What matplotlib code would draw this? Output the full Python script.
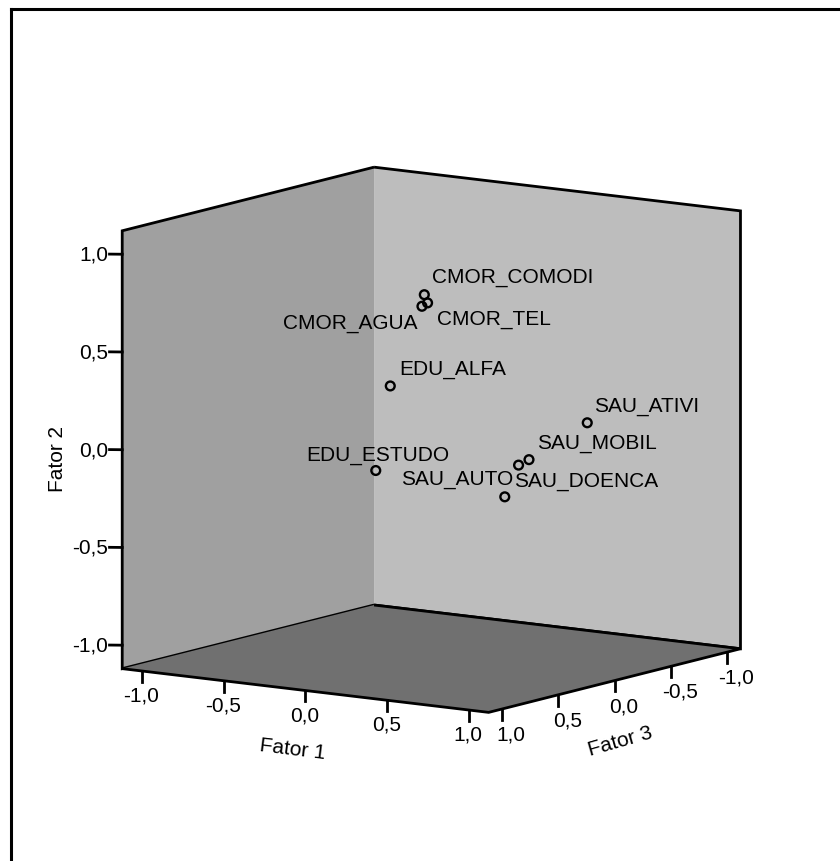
import matplotlib
matplotlib.use('Agg')
import matplotlib.pyplot as plt
from matplotlib.lines import Line2D
from mpl_toolkits.mplot3d import proj3d

# cargas fatoriais
variaveis = ['CMOR_COMODI', 'CMOR_TEL', 'CMOR_AGUA', 'EDU_ALFA', 'EDU_ESTUDO',
             'SAU_ATIVI', 'SAU_MOBIL', 'SAU_DOENCA', 'SAU_AUTO']
fator1 = [0.06, 0.08, 0.08, 0.23, 0.21, 0.85, 0.70, 0.65, 0.60]
fator2 = [0.77, 0.73, 0.72, 0.40, -0.02, 0.15, -0.01, -0.04, -0.20]
fator3 = [0.15, 0.15, 0.20, 0.70, 0.80, -0.15, 0.15, 0.17, 0.22]
ticks = [-1.0, -0.5, 0.0, 0.5, 1.0]

# deslocamento dos rotulos (pixels) e alinhamento
desloc = [(8, 18), (9, -16), (-4, -16), (9, 17), (2, 16),
          (7, 17), (8, 17), (-5, -15), (9, 18)]
alinh = ['left', 'left', 'right', 'left', 'center', 'left', 'left', 'left', 'right']

plt.rcParams['font.family'] = ['Liberation Sans', 'DejaVu Sans']
FS = 15
fig = plt.figure(figsize=(8.4, 8.62), dpi=100)
ax = fig.add_axes([0, -0.0245, 1, 1], projection='3d')
ax.set_proj_type('ortho')
ax.view_init(elev=10, azim=-55.5)
ax.set_box_aspect((1, 1, 1), zoom=0.89)

lim = 1.12
ax.set_xlim(-lim, lim)
ax.set_ylim(lim, -lim)
ax.set_zlim(-lim, lim)

ax.grid(False)
ax.xaxis.set_pane_color('#a0a0a0')
ax.yaxis.set_pane_color('#bdbdbd')
ax.zaxis.set_pane_color('#707070')
for eixo in (ax.xaxis, ax.yaxis, ax.zaxis):
    eixo.pane.set_edgecolor('black')
    eixo.pane.set_linewidth(2)
    eixo.line.set_visible(False)
    eixo.set_ticks([])

M = ax.get_proj()


def rotulo(texto, x, y, z, dx, dy, **kw):
    x2, y2, _ = proj3d.proj_transform(x, y, z, M)
    ax.annotate(texto, xy=(x2, y2), xytext=(dx, dy), textcoords='offset pixels',
                fontsize=FS, **kw)


def fmt(v):
    return ('%.1f' % v).replace('.', ',')


# eixos desenhados a mao: tracos e rotulos
d = 0.055
for t in ticks:
    ax.plot([t, t], [lim, lim], [-lim, -lim - d], color='black', lw=2)
    rotulo(fmt(t), t, lim, -lim, -1, -24, ha='center', va='center')
    ax.plot([lim, lim], [t, t], [-lim, -lim - d], color='black', lw=2)
    rotulo(fmt(t), lim, t, -lim, 9, -25, ha='center', va='center')
    ax.plot([-lim, -lim - d], [lim, lim + 0.6 * d], [t, t], color='black', lw=2)
    rotulo(fmt(t), -lim, lim, t, -14, 0, ha='right', va='center')

rotulo('Fator 1', 0, lim, -lim, -13, -58, ha='center', va='center', rotation=-7)
rotulo('Fator 3', lim, 0, -lim, 6, -60, ha='center', va='center', rotation=16)
rotulo('Fator 2', -lim, lim, 0, -65, -8, ha='center', va='center', rotation=90)

ax.scatter(fator1, fator3, fator2, s=40, facecolors='none', edgecolors='black',
           linewidths=1.7, depthshade=False)

for nome, f1, f2, f3, dd, ha in zip(variaveis, fator1, fator2, fator3, desloc, alinh):
    rotulo(nome, f1, f3, f2, dd[0], dd[1], ha=ha, va='center')

# moldura: so as bordas de cima e da esquerda
bx, by = 10.5 / 840, 1 - 10 / 862
fig.add_artist(Line2D([bx, 1], [by, by], transform=fig.transFigure,
                      color='black', lw=2.2, solid_capstyle='projecting'))
fig.add_artist(Line2D([bx, bx], [0, by], transform=fig.transFigure,
                      color='black', lw=2.2, solid_capstyle='projecting'))
fig.savefig('out.png', dpi=100, facecolor='white')
